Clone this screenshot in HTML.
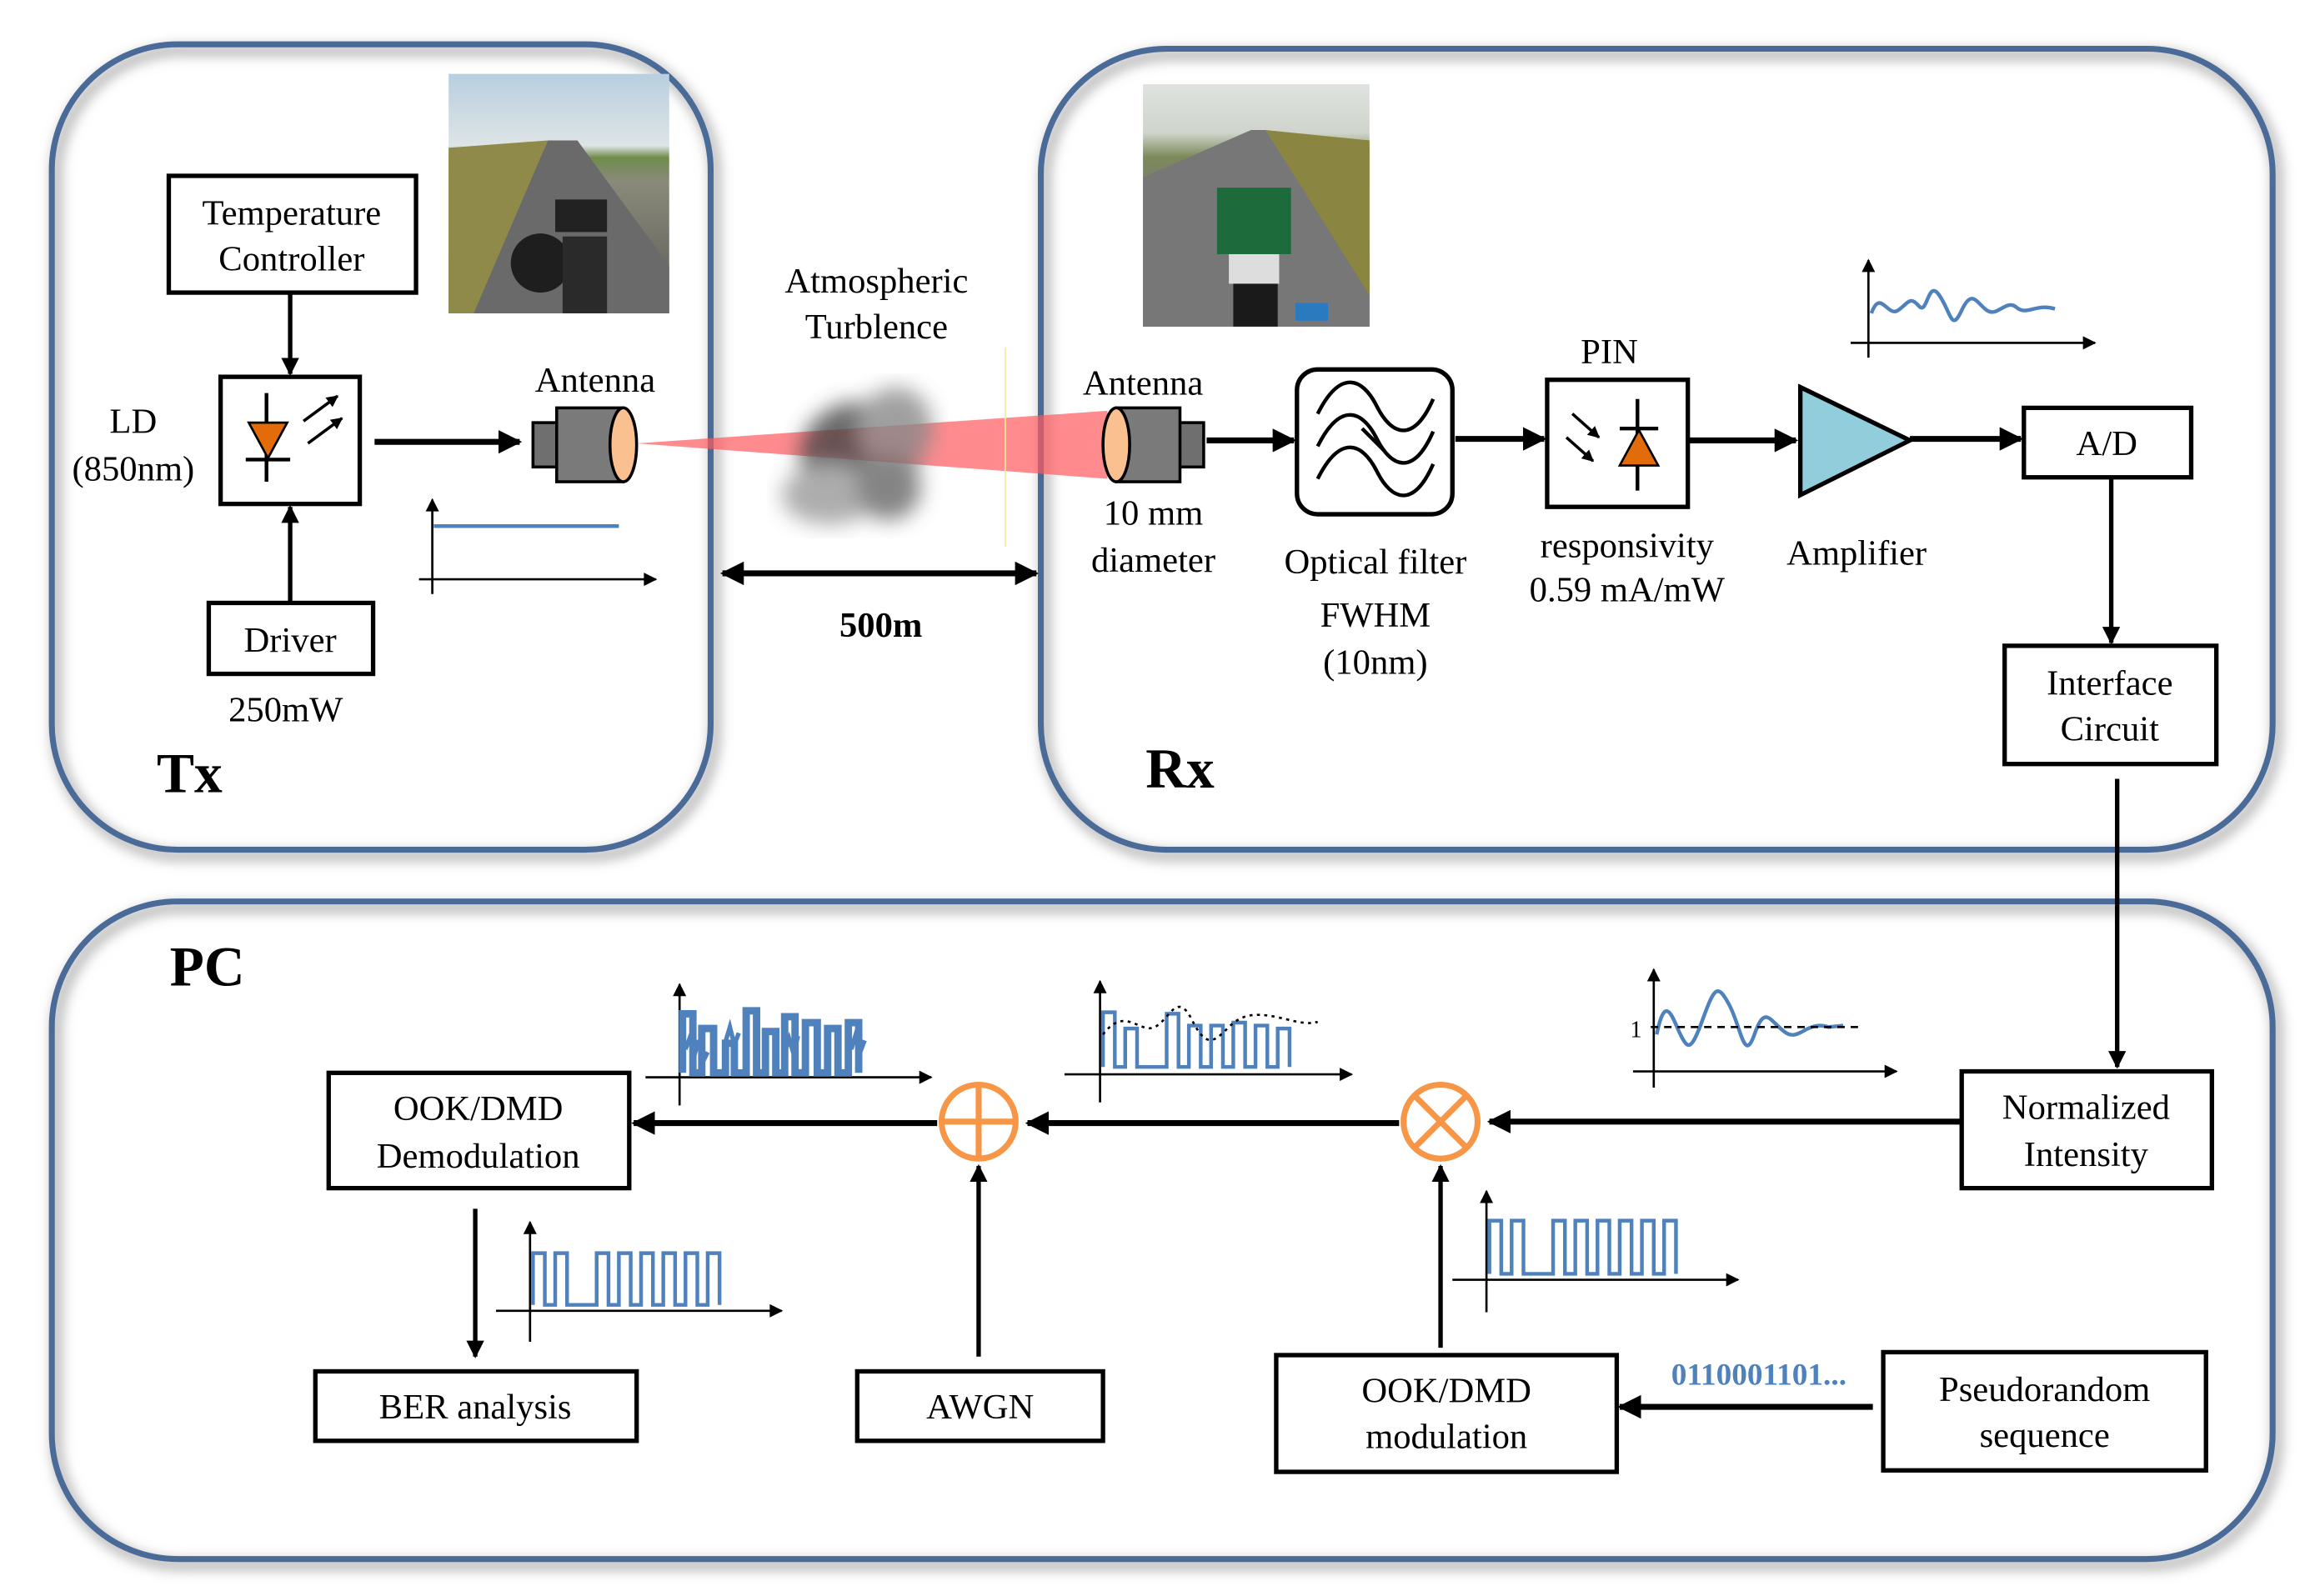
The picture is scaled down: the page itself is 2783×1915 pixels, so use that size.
<!DOCTYPE html>
<html><head><meta charset="utf-8"><style>
html,body{margin:0;padding:0;background:#fff}
svg{display:block}
text{font-family:"Liberation Serif","Times New Roman",serif;fill:#000}
</style></head><body>
<svg width="2783" height="1915" viewBox="0 0 1567 1080" preserveAspectRatio="none" xmlns="http://www.w3.org/2000/svg">
<defs>
<marker id="ah" viewBox="0 0 10 10" refX="9" refY="5" markerWidth="4" markerHeight="4" orient="auto-start-reverse" markerUnits="strokeWidth"><path d="M0,0 L10,5 L0,10 z" fill="#000"/></marker>
<marker id="as" viewBox="0 0 10 10" refX="9" refY="5" markerWidth="4" markerHeight="4" orient="auto-start-reverse" markerUnits="strokeWidth"><path d="M0,0 L10,5 L0,10 z" fill="#000"/></marker>
<marker id="ax" viewBox="0 0 10 10" refX="9" refY="5" markerWidth="7" markerHeight="6" orient="auto-start-reverse" markerUnits="strokeWidth"><path d="M0,0 L10,5 L0,10 z" fill="#000"/></marker>
<filter id="sh" x="-5%" y="-5%" width="110%" height="110%"><feGaussianBlur stdDeviation="4"/></filter>
<filter id="bl"><feGaussianBlur stdDeviation="7"/></filter>
<linearGradient id="p1" x1="0" y1="0" x2="0" y2="1"><stop offset="0" stop-color="#b8cfe0"/><stop offset="0.3" stop-color="#dde4e6"/><stop offset="0.35" stop-color="#6f8c4a"/><stop offset="0.45" stop-color="#8a8a7a"/><stop offset="1" stop-color="#5a5a58"/></linearGradient>
<linearGradient id="p2" x1="0" y1="0" x2="0" y2="1"><stop offset="0" stop-color="#dfe2df"/><stop offset="0.2" stop-color="#cfd5cc"/><stop offset="0.3" stop-color="#7c8a5a"/><stop offset="0.45" stop-color="#7a7a78"/><stop offset="1" stop-color="#5c5c5c"/></linearGradient>
</defs>

<g fill="none" stroke="#bbb" stroke-width="8" filter="url(#sh)">
<rect x="38" y="34" width="445" height="545" rx="85"/>
<rect x="706" y="37" width="832" height="542" rx="85"/>
<rect x="38" y="614" width="1500" height="445" rx="85"/>
</g>
<g fill="none" stroke="#4a6a98" stroke-width="4">
<rect x="35" y="30" width="445" height="545" rx="85"/>
<rect x="703" y="33" width="832" height="542" rx="85"/>
<rect x="35" y="610" width="1500" height="445" rx="85"/>
</g>

<rect x="303" y="50" width="149" height="162" fill="url(#p1)"/>
<polygon points="370,95 390,95 452,180 452,212 320,212" fill="#6a6a6a"/>
<polygon points="303,100 370,95 320,212 303,212" fill="#8f8a4a"/>
<rect x="375" y="135" width="35" height="22" fill="#222"/><circle cx="365" cy="178" r="20" fill="#1e1e1e"/><rect x="380" y="160" width="30" height="52" fill="#2a2a2a"/>
<rect x="772" y="57" width="153" height="164" fill="url(#p2)"/>
<polygon points="845,88 855,88 925,200 925,221 772,221 772,120" fill="#777"/>
<polygon points="855,88 925,95 925,200" fill="#8a8540"/>
<rect x="822" y="127" width="50" height="45" fill="#1d6b3a"/><rect x="830" y="172" width="34" height="20" fill="#ddd"/><rect x="833" y="192" width="30" height="29" fill="#1a1a1a"/><rect x="875" y="205" width="22" height="12" fill="#2a7ac0"/>

<!-- Tx -->
<rect x="114" y="119" width="167" height="79" fill="none" stroke="#000" stroke-width="3"/>
<text x="197" y="152" font-size="24" text-anchor="middle">Temperature</text>
<text x="197" y="183" font-size="24" text-anchor="middle">Controller</text>
<line x1="196" y1="199" x2="196" y2="253" stroke="#000" stroke-width="3" marker-end="url(#as)"/>
<rect x="149" y="255" width="94" height="86" fill="none" stroke="#000" stroke-width="3"/>
<line x1="180" y1="266" x2="180" y2="326" stroke="#000" stroke-width="2.5"/>
<polygon points="168,286 194,286 181,310" fill="#e36c0a" stroke="#000" stroke-width="1.5"/>
<line x1="166" y1="311" x2="196" y2="311" stroke="#000" stroke-width="2.5"/>
<line x1="205" y1="285" x2="228" y2="268" stroke="#000" stroke-width="2" marker-end="url(#ah)"/>
<line x1="208" y1="300" x2="231" y2="283" stroke="#000" stroke-width="2" marker-end="url(#ah)"/>
<text x="90" y="293" font-size="24" text-anchor="middle">LD</text>
<text x="90" y="325" font-size="24" text-anchor="middle">(850nm)</text>
<rect x="141" y="408" width="111" height="48" fill="none" stroke="#000" stroke-width="3"/>
<text x="196" y="441" font-size="24" text-anchor="middle">Driver</text>
<line x1="196" y1="408" x2="196" y2="343" stroke="#000" stroke-width="3" marker-end="url(#as)"/>
<text x="193" y="488" font-size="24" text-anchor="middle">250mW</text>
<line x1="253" y1="299" x2="351" y2="299" stroke="#000" stroke-width="4" marker-end="url(#as)"/>
<text x="402" y="265" font-size="24" text-anchor="middle">Antenna</text>
<rect x="360" y="286" width="18" height="30" fill="#6f6f6f" stroke="#000" stroke-width="2"/>
<rect x="376" y="276" width="45" height="50" fill="#7a7a7a" stroke="#000" stroke-width="2"/>
<ellipse cx="421" cy="301" rx="9" ry="25" fill="#fac090" stroke="#000" stroke-width="2"/>
<polygon points="430,300 748,278 748,324" fill="#ff5a5f" opacity="0.7"/>
<line x1="292" y1="402" x2="292" y2="338" stroke="#000" stroke-width="1.5" marker-end="url(#ax)"/>
<line x1="283" y1="392" x2="443" y2="392" stroke="#000" stroke-width="1.5" marker-end="url(#ax)"/>
<line x1="293" y1="356" x2="418" y2="356" stroke="#4f81bd" stroke-width="2.5"/>
<text x="128" y="536" font-size="38" font-weight="bold" text-anchor="middle">Tx</text>

<text x="592" y="198" font-size="24" text-anchor="middle">Atmospheric</text>
<text x="592" y="229" font-size="24" text-anchor="middle">Turblence</text>
<g filter="url(#bl)" opacity="0.8">
<ellipse cx="580" cy="310" rx="40" ry="38" fill="#444"/>
<ellipse cx="560" cy="335" rx="32" ry="20" fill="#999"/>
<ellipse cx="605" cy="290" rx="25" ry="28" fill="#888"/>
<ellipse cx="600" cy="330" rx="22" ry="22" fill="#666"/>
</g>
<line x1="679" y1="235" x2="679" y2="370" stroke="#f3f09a" stroke-width="1"/>
<line x1="488" y1="388" x2="700" y2="388" stroke="#000" stroke-width="4" marker-start="url(#as)" marker-end="url(#as)"/>
<text x="595" y="431" font-size="24" font-weight="bold" text-anchor="middle">500m</text>

<!-- Rx -->
<text x="772" y="267" font-size="24" text-anchor="middle">Antenna</text>
<rect x="795" y="286" width="18" height="30" fill="#6f6f6f" stroke="#000" stroke-width="2"/>
<rect x="754" y="276" width="43" height="50" fill="#7a7a7a" stroke="#000" stroke-width="2"/>
<ellipse cx="754" cy="301" rx="9" ry="25" fill="#fac090" stroke="#000" stroke-width="2"/>
<text x="779" y="355" font-size="24" text-anchor="middle">10 mm</text>
<text x="779" y="387" font-size="24" text-anchor="middle">diameter</text>
<line x1="815" y1="298" x2="874" y2="298" stroke="#000" stroke-width="4" marker-end="url(#as)"/>
<rect x="876" y="250" width="105" height="98" rx="14" fill="none" stroke="#000" stroke-width="3"/>
<g fill="none" stroke="#000" stroke-width="2.5">
<path d="M890,280 C905,250 920,255 930,275 S955,300 968,270"/>
<path d="M890,302 C905,272 920,277 930,297 S955,322 968,292"/>
<path d="M890,324 C905,294 920,299 930,319 S955,344 968,314"/>
<line x1="920" y1="290" x2="935" y2="305"/>
</g>
<text x="929" y="388" font-size="24" text-anchor="middle">Optical filter</text>
<text x="929" y="424" font-size="24" text-anchor="middle">FWHM</text>
<text x="929" y="456" font-size="24" text-anchor="middle">(10nm)</text>
<line x1="983" y1="297" x2="1043" y2="297" stroke="#000" stroke-width="4" marker-end="url(#as)"/>
<rect x="1045" y="257" width="95" height="86" fill="none" stroke="#000" stroke-width="3"/>
<line x1="1106" y1="270" x2="1106" y2="332" stroke="#000" stroke-width="2.5"/>
<line x1="1094" y1="290" x2="1120" y2="290" stroke="#000" stroke-width="2.5"/>
<polygon points="1094,315 1120,315 1107,291" fill="#e36c0a" stroke="#000" stroke-width="1.5"/>
<line x1="1062" y1="280" x2="1080" y2="296" stroke="#000" stroke-width="2" marker-end="url(#ah)"/>
<line x1="1058" y1="296" x2="1076" y2="312" stroke="#000" stroke-width="2" marker-end="url(#ah)"/>
<text x="1087" y="246" font-size="24" text-anchor="middle">PIN</text>
<text x="1099" y="377" font-size="24" text-anchor="middle">responsivity</text>
<text x="1099" y="407" font-size="24" text-anchor="middle">0.59 mA/mW</text>
<line x1="1140" y1="298" x2="1213" y2="298" stroke="#000" stroke-width="4" marker-end="url(#as)"/>
<polygon points="1216,262 1290,298 1216,335" fill="#92cddc" stroke="#000" stroke-width="3"/>
<text x="1254" y="382" font-size="24" text-anchor="middle">Amplifier</text>
<line x1="1290" y1="297" x2="1365" y2="297" stroke="#000" stroke-width="4" marker-end="url(#as)"/>
<rect x="1367" y="276" width="113" height="47" fill="none" stroke="#000" stroke-width="3"/>
<text x="1423" y="308" font-size="24" text-anchor="middle">A/D</text>
<line x1="1426" y1="323" x2="1426" y2="435" stroke="#000" stroke-width="3" marker-end="url(#as)"/>
<rect x="1354" y="437" width="143" height="80" fill="none" stroke="#000" stroke-width="3"/>
<text x="1425" y="470" font-size="24" text-anchor="middle">Interface</text>
<text x="1425" y="501" font-size="24" text-anchor="middle">Circuit</text>
<line x1="1262" y1="242" x2="1262" y2="176" stroke="#000" stroke-width="1.5" marker-end="url(#ax)"/>
<line x1="1250" y1="232" x2="1415" y2="232" stroke="#000" stroke-width="1.5" marker-end="url(#ax)"/>
<path d="M1264,212 C1270,195 1275,215 1282,210 S1290,200 1296,207 S1302,188 1310,200 S1318,225 1325,210 S1335,205 1342,210 S1355,202 1362,208 S1375,205 1388,209" fill="none" stroke="#4f81bd" stroke-width="2.5"/>
<text x="797" y="533" font-size="38" font-weight="bold" text-anchor="middle">Rx</text>
<line x1="1430" y1="527" x2="1430" y2="722" stroke="#000" stroke-width="3" marker-end="url(#as)"/>

<!-- PC -->
<text x="140" y="667" font-size="38" font-weight="bold" text-anchor="middle">PC</text>
<rect x="1325" y="725" width="169" height="79" fill="none" stroke="#000" stroke-width="3"/>
<text x="1409" y="757" font-size="24" text-anchor="middle">Normalized</text>
<text x="1409" y="789" font-size="24" text-anchor="middle">Intensity</text>
<line x1="1325" y1="759" x2="1006" y2="759" stroke="#000" stroke-width="4" marker-end="url(#as)"/>
<g fill="none" stroke="#f79646" stroke-width="4">
<circle cx="973" cy="759" r="25"/><line x1="956" y1="742" x2="990" y2="776"/><line x1="990" y1="742" x2="956" y2="776"/>
<circle cx="661" cy="759" r="25"/><line x1="636" y1="759" x2="686" y2="759"/><line x1="661" y1="734" x2="661" y2="784"/>
</g>
<line x1="945" y1="760" x2="694" y2="760" stroke="#000" stroke-width="4" marker-end="url(#as)"/>
<line x1="633" y1="760" x2="428" y2="760" stroke="#000" stroke-width="4" marker-end="url(#as)"/>
<rect x="222" y="726" width="203" height="78" fill="none" stroke="#000" stroke-width="3"/>
<text x="323" y="758" font-size="24" text-anchor="middle">OOK/DMD</text>
<text x="323" y="790" font-size="24" text-anchor="middle">Demodulation</text>
<line x1="321" y1="818" x2="321" y2="918" stroke="#000" stroke-width="3" marker-end="url(#as)"/>
<rect x="213" y="928" width="217" height="47" fill="none" stroke="#000" stroke-width="3"/>
<text x="321" y="960" font-size="24" text-anchor="middle">BER analysis</text>
<rect x="579" y="928" width="166" height="47" fill="none" stroke="#000" stroke-width="3"/>
<text x="662" y="960" font-size="24" text-anchor="middle">AWGN</text>
<line x1="661" y1="918" x2="661" y2="789" stroke="#000" stroke-width="3" marker-end="url(#as)"/>
<rect x="862" y="917" width="230" height="79" fill="none" stroke="#000" stroke-width="3"/>
<text x="977" y="949" font-size="24" text-anchor="middle">OOK/DMD</text>
<text x="977" y="980" font-size="24" text-anchor="middle">modulation</text>
<line x1="973" y1="912" x2="973" y2="789" stroke="#000" stroke-width="3" marker-end="url(#as)"/>
<rect x="1272" y="915" width="218" height="80" fill="none" stroke="#000" stroke-width="3"/>
<text x="1381" y="948" font-size="24" text-anchor="middle">Pseudorandom</text>
<text x="1381" y="979" font-size="24" text-anchor="middle">sequence</text>
<line x1="1265" y1="952" x2="1094" y2="952" stroke="#000" stroke-width="4" marker-end="url(#as)"/>
<text x="1188" y="937" font-size="21" font-weight="bold" text-anchor="middle" style="fill:#4f81bd">0110001101...</text>

<g stroke="#000" stroke-width="1.5">
<line x1="358" y1="908" x2="358" y2="827" marker-end="url(#ax)"/>
<line x1="335" y1="887" x2="528" y2="887" marker-end="url(#ax)"/>
<line x1="1004" y1="888" x2="1004" y2="806" marker-end="url(#ax)"/>
<line x1="981" y1="866" x2="1174" y2="866" marker-end="url(#ax)"/>
<line x1="743" y1="746" x2="743" y2="664" marker-end="url(#ax)"/>
<line x1="719" y1="727" x2="913" y2="727" marker-end="url(#ax)"/>
<line x1="459" y1="748" x2="459" y2="666" marker-end="url(#ax)"/>
<line x1="436" y1="729" x2="629" y2="729" marker-end="url(#ax)"/>
<line x1="1117" y1="736" x2="1117" y2="656" marker-end="url(#ax)"/>
<line x1="1103" y1="725" x2="1281" y2="725" marker-end="url(#ax)"/>
</g>
<g fill="none" stroke="#4f81bd" stroke-width="2.5">
<path d="M360,883 v-35 h8 v35 h7 v-35 h8 v35 h20 v-35 h8 v35 h7 v-35 h8 v35 h7 v-35 h8 v35 h7 v-35 h8 v35 h7 v-35 h8 v35 h7 v-35 h8 v35"/>
<path d="M1006,862 v-36 h8 v36 h7 v-36 h8 v36 h20 v-36 h8 v36 h7 v-36 h8 v36 h7 v-36 h8 v36 h7 v-36 h8 v36 h7 v-36 h8 v36 h7 v-36 h8 v36"/>
<path d="M745,722 v-37 h8 v37 h7 v-26 h8 v26 h20 v-36 h8 v36 h7 v-28 h8 v28 h7 v-28 h8 v28 h7 v-30 h8 v30 h7 v-28 h8 v28 h7 v-26 h8 v26"/>
<path d="M1119,700 C1125,670 1130,690 1135,700 S1142,712 1150,690 S1160,665 1168,680 S1178,720 1185,700 S1195,690 1205,698 S1220,690 1235,695 L1245,694"/>
</g>
<path d="M745,700 C760,680 770,700 780,695 S795,670 805,690 S820,705 830,695 S850,685 870,690 S885,690 890,692" fill="none" stroke="#000" stroke-width="1.5" stroke-dasharray="2,3"/>
<line x1="1115" y1="695" x2="1258" y2="695" stroke="#000" stroke-width="1.5" stroke-dasharray="5,4"/>
<text x="1105" y="702" font-size="16" text-anchor="middle">1</text>
<g fill="none" stroke="#4f81bd" stroke-width="5">
<path d="M461,726 v-40 h7 v40 h6 v-30 h8 v30 h8 v-20 h6 v20 h8 v-42 h7 v42 h6 v-28 h7 v28 h6 v-38 h7 v38 h7 v-34 h8 v34 h7 v-30 h7 v30 h7 v-34 h7 v34"/>
</g>
<path d="M463,710 l3,-8 l3,12 l3,-10 l3,14 l3,-6 M490,705 l3,-10 l3,12 l3,-8 M530,712 l3,-9 l3,10 l3,-12 M575,710 l3,-10 l3,12 l3,-8" fill="none" stroke="#4f81bd" stroke-width="3"/>
</svg>
</body></html>
